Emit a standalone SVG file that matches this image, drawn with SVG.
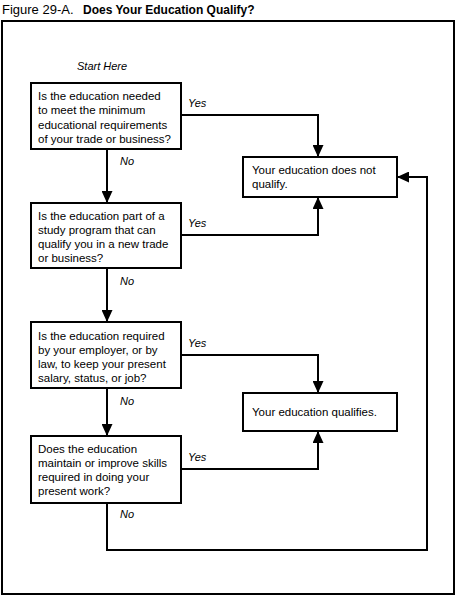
<svg xmlns="http://www.w3.org/2000/svg" width="458" height="603" viewBox="0 0 458 603">
<style>
  text { font-family: "Liberation Sans", Arial, sans-serif; fill: #000; }
  .t { font-size: 11.5px; }
  .lbl { font-size: 11px; font-style: italic; }
  .box { fill: #fff; stroke: #000; stroke-width: 2; }
  .ln { fill: none; stroke: #000; stroke-width: 2; }
</style>
<defs>
  <marker id="ah" markerUnits="userSpaceOnUse" markerWidth="12" markerHeight="11" viewBox="0 0 12 11" refX="12" refY="5.5" orient="auto">
    <path d="M0,0 L12,5.5 L0,11 Z" fill="#000"/>
  </marker>
</defs>
<rect width="458" height="603" fill="#fff"/>
<text x="2" y="14" font-size="13">Figure 29-A. <tspan x="83" font-weight="bold" font-size="12">Does Your Education Qualify?</tspan></text>
<rect x="2" y="21" width="452" height="573" fill="none" stroke="#000" stroke-width="2"/>
<text x="77" y="70" class="lbl" font-size="11.5">Start Here</text>

<g id="connectors">
  <path class="ln" d="M107,149 V203" marker-end="url(#ah)"/>
  <path class="ln" d="M107,268 V322" marker-end="url(#ah)"/>
  <path class="ln" d="M107,388 V436" marker-end="url(#ah)"/>
  <path class="ln" d="M107,503 V550 H427 V177 H397" marker-end="url(#ah)"/>
  <path class="ln" d="M181,115 H318 V157" marker-end="url(#ah)"/>
  <path class="ln" d="M181,235 H318 V197" marker-end="url(#ah)"/>
  <path class="ln" d="M181,355 H318 V393" marker-end="url(#ah)"/>
  <path class="ln" d="M181,469 H318 V431" marker-end="url(#ah)"/>
  <text class="lbl" x="120" y="165">No</text>
  <text class="lbl" x="120" y="285">No</text>
  <text class="lbl" x="120" y="405">No</text>
  <text class="lbl" x="120" y="518">No</text>
  <text class="lbl" x="188" y="107">Yes</text>
  <text class="lbl" x="188" y="227">Yes</text>
  <text class="lbl" x="188" y="347">Yes</text>
  <text class="lbl" x="188" y="461">Yes</text>
</g>

<g id="q1">
  <rect class="box" x="31" y="83" width="150" height="66"/>
  <text class="t" x="38" y="100">Is the education needed</text>
  <text class="t" x="38" y="114">to meet the minimum</text>
  <text class="t" x="38" y="129">educational requirements</text>
  <text class="t" x="38" y="143">of your trade or business?</text>
</g>
<g id="q2">
  <rect class="box" x="31" y="203" width="150" height="65"/>
  <text class="t" x="38" y="220">Is the education part of a</text>
  <text class="t" x="38" y="234">study program that can</text>
  <text class="t" x="38" y="248">qualify you in a new trade</text>
  <text class="t" x="38" y="262">or business?</text>
</g>
<g id="q3">
  <rect class="box" x="31" y="322" width="150" height="66"/>
  <text class="t" x="38" y="340">Is the education required</text>
  <text class="t" x="38" y="354">by your employer, or by</text>
  <text class="t" x="38" y="368">law, to keep your present</text>
  <text class="t" x="38" y="382">salary, status, or job?</text>
</g>
<g id="q4">
  <rect class="box" x="31" y="436" width="150" height="67"/>
  <text class="t" x="38" y="453">Does the education</text>
  <text class="t" x="38" y="467">maintain or improve skills</text>
  <text class="t" x="38" y="481">required in doing your</text>
  <text class="t" x="38" y="495">present work?</text>
</g>
<g id="notqualify">
  <rect class="box" x="243" y="157" width="154" height="40"/>
  <text class="t" x="252" y="174">Your education does not</text>
  <text class="t" x="252" y="188">qualify.</text>
</g>
<g id="qualifies">
  <rect class="box" x="243" y="393" width="154" height="38"/>
  <text class="t" x="252" y="416">Your education qualifies.</text>
</g>
</svg>
